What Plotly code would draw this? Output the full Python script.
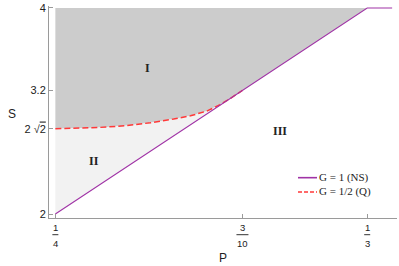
import math
import plotly.graph_objects as go

# ---------------- data ----------------
# G = 1 (NS) boundary
ns_P = [1/4, 1/3, 0.34]
ns_S = [2.0, 4.0, 4.0]

# G = 1/2 (Q) boundary
q_P = [0.25, 0.2567, 0.262, 0.2687, 0.2754, 0.2816, 0.2861, 0.2906, 0.2940, 0.2965, 0.3]
q_S = [2.828, 2.832, 2.841, 2.857, 2.886, 2.922, 2.953, 3.001, 3.062, 3.116, 3.2]

S_top = 4.0
x_tickvals = [1/4, 3/10, 1/3]
x_num = ["1", "3", "1"]
x_den = ["4", "10", "3"]
y_tickvals = [2.0, 2 * math.sqrt(2), 3.2, 4.0]
y_ticktext = ["2", "2 \u221a<span style='text-decoration:overline'>2</span>", "3.2", "4"]
region_labels = ["I", "II", "III"]
region_P = [0.2746, 0.2602, 0.3099]
region_S = [3.414, 2.512, 2.809]

legend_names = ["G = 1 (NS)", "G = 1/2 (Q)"]

# ---------------- style ----------------
PURPLE = "#a033a6"
RED = "#ff3838"
DARK = "#cccccc"
LIGHT = "#f2f2f2"
AX = "#9a9a9a"

fig = go.Figure()

# Region I: above Q-curve up to S=4, bounded on right by NS line
rI_x = q_P + [ns_P[1], ns_P[0]]
rI_y = q_S + [ns_S[1], S_top]
fig.add_trace(go.Scatter(x=rI_x, y=rI_y, fill="toself", fillcolor=DARK,
                         mode="none", showlegend=False, hoverinfo="skip"))
# Region II: between Q-curve and NS line
rII_x = q_P + [ns_P[0]]
rII_y = q_S + [ns_S[0]]
fig.add_trace(go.Scatter(x=rII_x, y=rII_y, fill="toself", fillcolor=LIGHT,
                         mode="none", showlegend=False, hoverinfo="skip"))

# Q curve
fig.add_trace(go.Scatter(x=q_P, y=q_S, mode="lines",
                         line=dict(color=RED, width=1.5, dash="6px,3px"),
                         showlegend=False, hoverinfo="skip"))
# NS line
fig.add_trace(go.Scatter(x=ns_P, y=ns_S, mode="lines",
                         line=dict(color=PURPLE, width=1.1),
                         showlegend=False, hoverinfo="skip"))

annotations = []
shapes = []

# fraction tick labels on x axis
for v, n, d in zip(x_tickvals, x_num, x_den):
    w = 3 if len(d) == 1 else 6
    annotations.append(dict(x=v, y=0, xref="x", yref="paper", text=n, showarrow=False,
                            yshift=-9, yanchor="middle",
                            font=dict(family="Liberation Sans", size=9.5, color="#222")))
    annotations.append(dict(x=v, y=0, xref="x", yref="paper", text=d, showarrow=False,
                            yshift=-25.5, yanchor="middle",
                            font=dict(family="Liberation Sans", size=9.5, color="#222")))
    shapes.append(dict(type="line", xref="x", yref="paper", xsizemode="pixel",
                       ysizemode="pixel", xanchor=v, yanchor=0,
                       x0=-w, x1=w, y0=-16.7, y1=-16.7,
                       line=dict(color="#333", width=1)))

# axis titles
annotations.append(dict(x=-0.105, y=0.49, xref="paper", yref="paper", text="S",
                        showarrow=False, xanchor="center", yanchor="middle",
                        font=dict(family="Liberation Sans", size=12, color="#222")))
annotations.append(dict(x=0.50, y=0, xref="paper", yref="paper", text="P",
                        showarrow=False, yshift=-40, yanchor="middle",
                        font=dict(family="Liberation Sans", size=12, color="#222")))

# region labels
for t, px, sy in zip(region_labels, region_P, region_S):
    annotations.append(dict(x=px, y=sy, xref="x", yref="y", text="<b>%s</b>" % t,
                            showarrow=False,
                            font=dict(family="Liberation Serif", size=12, color="#222")))

# legend (manual)
leg_colors = [PURPLE, RED]
leg_dash = ["solid", "4px,2px"]
leg_w = [1.6, 1.4]
leg_y = [177.3, 191.7]
H = 266 - 48 - 4
for name, c, ds, lw, yy in zip(legend_names, leg_colors, leg_dash, leg_w, leg_y):
    py = (218 - yy) / H
    shapes.append(dict(type="line", xref="paper", yref="paper",
                       x0=(298 - 49) / 348, x1=(317 - 49) / 348, y0=py, y1=py,
                       line=dict(color=c, width=lw, dash=ds)))
    annotations.append(dict(x=(317 - 49) / 348, y=py, xref="paper", yref="paper",
                            text=name, showarrow=False, xanchor="left", yanchor="middle",
                            font=dict(family="Liberation Serif", size=11, color="#222")))

fig.update_layout(
    width=399, height=266,
    margin=dict(l=49, r=2, t=4, b=48),
    paper_bgcolor="white", plot_bgcolor="white",
    showlegend=False,
    annotations=annotations, shapes=shapes,
    xaxis=dict(range=[0.2483, 0.3413], showgrid=False, zeroline=False,
               showline=True, linecolor=AX, linewidth=1,
               tickvals=x_tickvals, showticklabels=False,
               ticks="inside", ticklen=4, tickcolor=AX),
    yaxis=dict(range=[1.9616, 4.019], showgrid=False, zeroline=False,
               showline=True, linecolor=AX, linewidth=1,
               tickvals=y_tickvals, ticktext=y_ticktext,
               ticks="inside", ticklen=4, tickcolor=AX,
               ticklabeloverflow="allow",
               tickfont=dict(family="Liberation Sans", size=11, color="#222")),
)

fig.write_html("out.html",
               config={"displayModeBar": False, "staticPlot": True},
               post_script="document.body.style.margin='0';document.body.style.overflow='hidden';")
